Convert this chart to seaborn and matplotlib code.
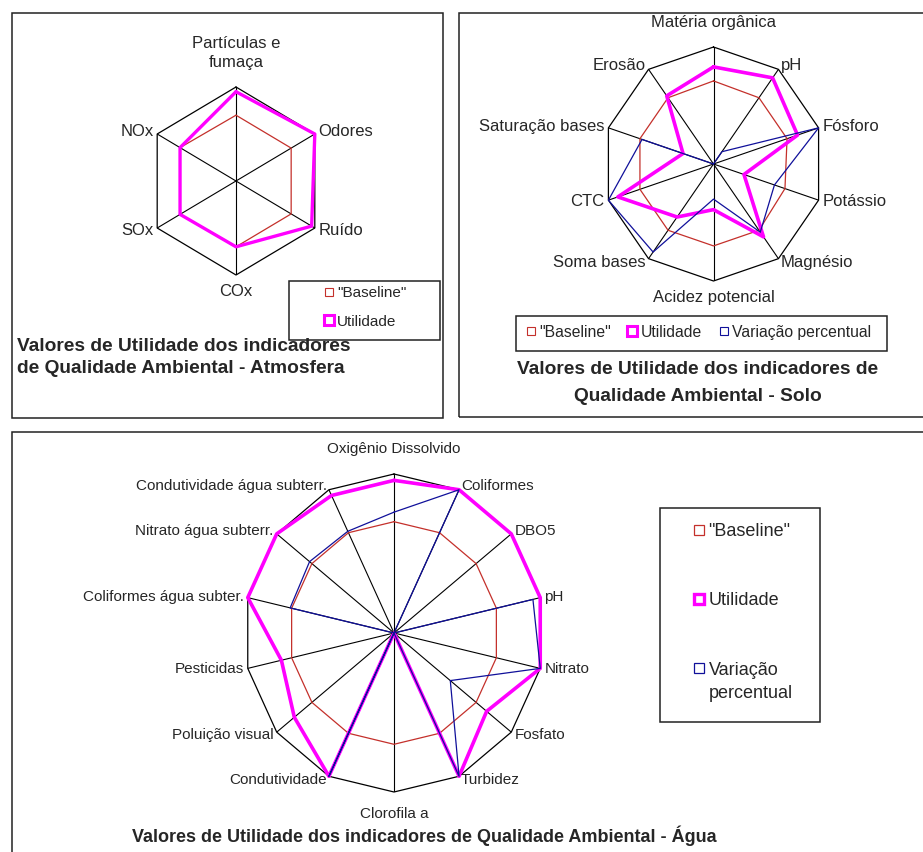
import numpy as np
import matplotlib
matplotlib.use('Agg')
import matplotlib.pyplot as plt
import seaborn as sns
from matplotlib.lines import Line2D
from matplotlib.patches import Rectangle
import warnings

warnings.filterwarnings("ignore")
sns.set_style('white')
plt.rcParams['font.family'] = ['Liberation Sans', 'DejaVu Sans']

# ---- dados ----
atm_labels = ['Partículas e\nfumaça', 'Odores', 'Ruído', 'COx', 'SOx', 'NOx']
atm_baseline = [0.70, 0.70, 0.70, 0.70, 0.71, 0.71]
atm_utilidade = [0.95, 1.00, 0.96, 0.70, 0.71, 0.71]

solo_labels = ['Matéria orgânica', 'pH', 'Fósforo', 'Potássio', 'Magnésio',
               'Acidez potencial', 'Soma bases', 'CTC', 'Saturação bases', 'Erosão']
solo_baseline = [0.71, 0.70, 0.70, 0.68, 0.70, 0.70, 0.70, 0.70, 0.70, 0.70]
solo_utilidade = [0.83, 0.91, 0.80, 0.29, 0.77, 0.39, 0.56, 0.91, 0.29, 0.72]
solo_variacao = [0.00, 0.13, 1.00, 0.58, 0.72, 0.30, 0.93, 1.00, 0.68, 0.00]

agua_labels = ['Oxigênio Dissolvido', 'Coliformes', 'DBO5', 'pH', 'Nitrato', 'Fosfato',
               'Turbidez', 'Clorofila a', 'Condutividade', 'Poluição visual', 'Pesticidas',
               'Coliformes água subter.', 'Nitrato água subterr.', 'Condutividade água subterr.']
agua_baseline = [0.70] * 14
agua_utilidade = [0.96, 1.00, 1.00, 1.00, 1.00, 0.79, 1.00, 0.00, 1.00, 0.85, 0.77, 1.00, 1.00, 0.96]
agua_variacao = [0.76, 1.00, 0.00, 0.95, 1.00, 0.48, 1.00, 0.00, 1.00, 0.00, 0.00, 0.71, 0.72, 0.71]

RED = '#C4302B'
MAG = '#FF00FF'
BLUE = '#10109A'

W, H = 923, 852
fig = plt.figure(figsize=(W / 100, H / 100), dpi=100)


def px_rect(x0, y0, x1, y1):
    return [x0 / W, 1 - y1 / H, (x1 - x0) / W, (y1 - y0) / H]


def fx(x):
    return x / W


def fy(y):
    return 1 - y / H


def radar(rect, labels, series, fsize, pads=(8, 3, 6)):
    ax = fig.add_axes(rect, projection='polar')
    ax.set_aspect('auto')
    n = len(labels)
    ang = np.linspace(0, 2 * np.pi, n, endpoint=False)
    ang_c = np.append(ang, ang[0])
    ax.set_theta_zero_location('N')
    ax.set_theta_direction(-1)
    ax.set_xticks(ang)
    ax.set_xticklabels([])
    ax.set_yticks([])
    ax.xaxis.grid(True, color='black', lw=0.8)
    ax.yaxis.grid(False)
    ax.spines['polar'].set_visible(False)
    ax.patch.set_alpha(0)
    ax.plot(ang_c, np.ones(n + 1), color='black', lw=0.9, clip_on=False)
    for vals, color, lw in series:
        v = np.append(vals, vals[0])
        sns.lineplot(x=ang_c, y=v, sort=False, estimator=None, color=color,
                     lw=lw, ax=ax, clip_on=False)
    ax.set_ylim(0, 1)
    ax.set_xlabel('')
    ax.set_ylabel('')
    top, side, bottom = pads
    for a, lab in zip(ang, labels):
        s, c = np.sin(a), np.cos(a)
        if abs(s) < 0.15:
            ha = 'center'
            if c > 0:
                va, off = 'bottom', (0, top)
            else:
                va, off = 'top', (0, -bottom)
        else:
            ha = 'left' if s > 0 else 'right'
            va = 'center'
            off = (side * s, side * c)
        ax.annotate(lab, xy=(a, 1), xytext=off, textcoords='offset points',
                    ha=ha, va=va, fontsize=fsize, multialignment='center',
                    linespacing=1.4, annotation_clip=False)
    return ax


def handle(color, ms, mew):
    return Line2D([], [], marker='s', ls='none', mfc='white', mec=color, ms=ms, mew=mew)


# ---- painéis ----
for x0, y0, x1, y1 in [(12, 13, 443, 418), (459, 13, 940, 417), (12, 432, 940, 870)]:
    fig.add_artist(Rectangle((fx(x0), fy(y1)), (x1 - x0) / W, (y1 - y0) / H,
                             transform=fig.transFigure, fill=False, ec='#222222', lw=1.1))

# Atmosfera
radar(px_rect(145, 87, 327, 275), atm_labels,
      [(atm_baseline, RED, 0.9), (atm_utilidade, MAG, 2.4)], 12, pads=(12, 3, 6.5))
fig.add_artist(Rectangle((fx(289), fy(340)), 151 / W, 59 / H, transform=fig.transFigure,
                         fill=False, ec='#222222', lw=1.1))
fig.legend([handle(RED, 6, 0.8), handle(MAG, 6.5, 2.2)], ['"Baseline"', 'Utilidade'],
           loc='upper left', bbox_to_anchor=(fx(325), fy(286)), frameon=False,
           fontsize=11, handlelength=0.5, handletextpad=0.3, labelspacing=0.95,
           borderpad=0, borderaxespad=0)
fig.text(fx(17), fy(338), 'Valores de Utilidade dos indicadores\nde Qualidade Ambiental - Atmosfera',
         ha='left', va='top', fontsize=13.8, fontweight='bold', linespacing=1.35)

# Solo
radar(px_rect(603, 47, 824, 281), solo_labels,
      [(solo_baseline, RED, 0.9), (solo_utilidade, MAG, 2.6), (solo_variacao, BLUE, 0.9)], 12,
      pads=(12, 3, 6.5))
fig.add_artist(Rectangle((fx(516), fy(351)), 371 / W, 35 / H, transform=fig.transFigure,
                         fill=False, ec='#222222', lw=1.1))
fig.legend([handle(RED, 6, 0.8), handle(MAG, 6.5, 2.2), handle(BLUE, 6, 0.8)],
           ['"Baseline"', 'Utilidade', 'Variação percentual'], ncol=3,
           loc='center left', bbox_to_anchor=(fx(527), fy(332)), frameon=False,
           fontsize=11.3, handlelength=0.5, handletextpad=0.3, columnspacing=1.1,
           borderpad=0, borderaxespad=0)
fig.text(fx(698), fy(370), 'Valores de Utilidade dos indicadores de', ha='center', va='center',
         fontsize=13.8, fontweight='bold')
fig.text(fx(698), fy(396), 'Qualidade Ambiental - Solo', ha='center', va='center',
         fontsize=13.8, fontweight='bold')

# Água
radar(px_rect(244, 474, 544, 792), agua_labels,
      [(agua_baseline, RED, 0.9), (agua_utilidade, MAG, 2.6), (agua_variacao, BLUE, 0.9)], 11,
      pads=(13, 3, 11))
fig.add_artist(Rectangle((fx(660), fy(722)), 160 / W, 214 / H, transform=fig.transFigure,
                         fill=False, ec='#222222', lw=1.1))
fig.legend([handle(RED, 7, 0.9), handle(MAG, 7.5, 2.4), handle(BLUE, 7, 0.9)],
           ['"Baseline"', 'Utilidade', 'Variação'],
           loc='upper left', bbox_to_anchor=(fx(694), fy(523)), frameon=False,
           fontsize=13, handlelength=0.5, handletextpad=0.3, labelspacing=2.9,
           borderpad=0, borderaxespad=0)
fig.text(fx(709), fy(694), 'percentual', ha='left', va='center', fontsize=13)
fig.text(fx(424), fy(836), 'Valores de Utilidade dos indicadores de Qualidade Ambiental - Água',
         ha='center', va='center', fontsize=13, fontweight='bold')

fig.savefig('out.png', dpi=100, facecolor='white')
